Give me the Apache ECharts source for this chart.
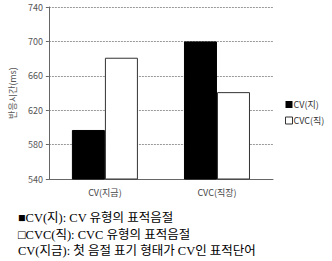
<!DOCTYPE html>
<html><head><meta charset="utf-8">
<script src="https://cdn.jsdelivr.net/npm/echarts@6/dist/echarts.min.js"></script>
<style>html,body{margin:0;padding:0;background:#fff;}#c{width:332px;height:261px;}</style>
</head><body><div id="c"></div>
<script>
const categories = ['CV(지금)', 'CVC(직장)'];
const seriesNames = ['CV(지)', 'CVC(직)'];
const cvValues = [597, 700];
const cvcValues = [681, 641];
const notes = ['■CV(지): CV 유형의 표적음절', '□CVC(직): CVC 유형의 표적음절', 'CV(지금): 첫 음절 표기 형태가 CV인 표적단어'];
const yName = '반응시간(ms)';

const chart = echarts.init(document.getElementById('c'), null, {renderer: 'svg'});
const sans = '"Malgun Gothic","Noto Sans CJK KR",sans-serif';
const serif = '"Liberation Serif","Noto Sans CJK KR",serif';
chart.setOption({
  animation: false,
  grid: {left: 43, right: 59, top: 7, bottom: 82},
  legend: {
    orient: 'vertical', left: 280, top: 95, itemWidth: 7, itemHeight: 7, itemGap: 7,
    textStyle: {fontSize: 9, color: '#333', fontFamily: sans, padding: [0,0,0,-4]},
    data: [
      {name: seriesNames[0], icon: 'rect', itemStyle: {color: '#000', borderWidth: 0}},
      {name: seriesNames[1], icon: 'rect', itemStyle: {color: '#fff', borderColor: '#333', borderWidth: 1}}
    ]
  },
  xAxis: {
    type: 'category', data: categories,
    axisLine: {lineStyle: {color: '#666', width: 1}},
    axisTick: {show: false},
    axisLabel: {fontSize: 9, color: '#444', fontFamily: sans, margin: 9}
  },
  yAxis: {
    type: 'value', min: 540, max: 740, interval: 40,
    name: yName, nameLocation: 'middle', nameGap: 31, nameRotate: 90,
    nameTextStyle: {fontSize: 9, color: '#555', fontFamily: sans},
    axisLine: {show: true, lineStyle: {color: '#666', width: 1}},
    axisTick: {show: true, length: 3, lineStyle: {color: '#666'}},
    axisLabel: {fontSize: 9, color: '#555', fontFamily: sans, margin: 6},
    splitLine: {lineStyle: {color: '#999', type: [2, 1], width: 1}}
  },
  series: [
    {name: seriesNames[0], type: 'bar', data: cvValues, barWidth: 33, barGap: '0%',
     itemStyle: {color: '#000', borderColor: '#000', borderWidth: 1}},
    {name: seriesNames[1], type: 'bar', data: cvcValues, barWidth: 33,
     itemStyle: {color: '#fff', borderColor: '#333', borderWidth: 1}}
  ],
  graphic: notes.map((t, i) => ({
    type: 'text', left: 18, top: 212 + i * 16.5,
    style: {text: t, font: '12.5px ' + serif, fill: '#000'}
  }))
});
</script></body></html>
